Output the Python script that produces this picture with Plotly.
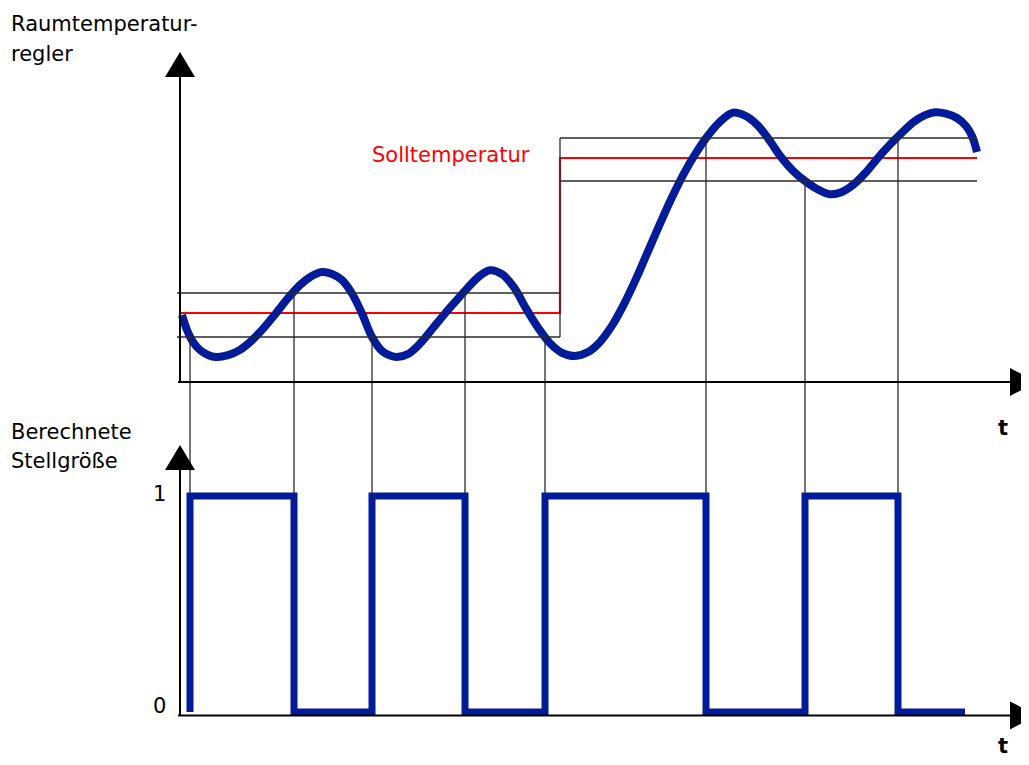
import plotly.graph_objects as go

# time axis (arbitrary units) and room temperature curve (schematic units)
t_curve = [0.2, 0.7, 1.3, 2.0, 2.8, 3.6,
           4.8, 6.0, 7.2, 8.4, 9.6, 10.8, 12.0, 13.1, 14.2,
           15.2, 16.2, 17.2, 18.2, 19.2, 20.2, 21.0, 21.7,
           22.9, 24.1, 25.3, 26.5, 27.7, 28.8, 29.9, 31.0,
           32.2, 33.4, 34.6, 35.8, 37.0, 38.2, 39.5,
           40.8, 42.0, 43.2, 44.4, 45.6, 46.8, 48.0, 49.2, 50.4, 51.6, 52.8, 54.0, 55.3,
           56.5, 57.7, 58.9, 60.1, 61.3, 62.5, 63.8, 65.0,
           66.2, 67.4, 68.6, 69.8, 71.0, 72.2, 73.4, 74.5, 75.5,
           76.6, 77.7, 78.6, 79.2, 79.7]
temp_curve = [6.7, 5.2, 4.0, 3.2, 2.7, 2.5,
              2.68, 3.22, 4.18, 5.44, 6.88, 8.38, 9.7, 10.55, 11.0,
              10.8, 10.2, 8.85, 6.85, 4.5, 3.1, 2.65, 2.5,
              2.86, 3.94, 5.4, 6.85, 8.22, 9.45, 10.55, 11.18,
              10.78, 9.46, 7.36, 5.44, 3.88, 2.92, 2.6,
              2.99, 4.01, 5.63, 7.79, 10.31, 13.07, 15.83, 18.47, 20.87, 22.91, 24.65, 26.03, 26.94,
              26.64, 25.74, 24.24, 22.5, 21.12, 20.1, 19.25, 18.77,
              19.0, 19.78, 20.98, 22.42, 23.74, 24.94, 26.02, 26.68, 26.98,
              26.84, 26.4, 25.6, 24.6, 23.0]

# setpoint (Solltemperatur) with step
t_set = [0.0, 38.0, 38.0, 79.7]
sp_set = [6.9, 6.9, 22.4, 22.4]

# hysteresis band around the setpoint
t_band_lo = [-0.3, 38.0]
band_lo_hi = [8.9, 8.9]
band_lo_lo = [4.5, 4.5]
t_band_hi = [38.0, 79.7]
band_hi_hi = [24.4, 24.4]
band_hi_lo = [20.1, 20.1]

# switching instants, threshold reached, controller output after switching
t_switch = [1.0, 11.4, 19.2, 28.5, 36.5, 52.6, 62.5, 71.8]
thr_switch = [4.5, 8.9, 4.5, 8.9, 4.5, 24.4, 20.1, 24.4]
u_switch = [1, 0, 1, 0, 1, 0, 1, 0]
t_end = 78.5

BLUE = "#021b98"
RED = "#ff0000"
GREY = "#2a2a2a"

W, H = 1013, 749          # page body adds an 8px margin
x_range = [-17.2, 84.1]
y_range = [-3.8, 37.4]
y2_range = [-0.2083, 1.3519]
split = 1 - 412 / H

fig = go.Figure()

# red setpoint
fig.add_trace(go.Scatter(x=t_set, y=sp_set, mode="lines",
                         line=dict(color=RED, width=2.2), yaxis="y"))

# temperature curve
fig.add_trace(go.Scatter(x=t_curve, y=temp_curve, mode="lines",
                         line=dict(color=BLUE, width=8, shape="spline", smoothing=1),
                         yaxis="y"))

# band lines (black, above the curve)
bx, by = [], []
for tt, yy in [(t_band_lo, band_lo_hi), (t_band_lo, band_lo_lo),
               (t_band_hi, band_hi_hi), (t_band_hi, band_hi_lo)]:
    bx += tt + [None]
    by += yy + [None]
bx += [t_band_lo[1], t_band_lo[1], None]
by += [band_lo_lo[0], band_hi_hi[0], None]
fig.add_trace(go.Scatter(x=bx, y=by, mode="lines",
                         line=dict(color=GREY, width=1.3), yaxis="y"))

# vertical switch lines, upper part
vx, vy = [], []
for t, thr in zip(t_switch, thr_switch):
    vx += [t, t, None]
    vy += [thr, y_range[0], None]
fig.add_trace(go.Scatter(x=vx, y=vy, mode="lines",
                         line=dict(color=GREY, width=1.3), yaxis="y"))

# vertical switch lines, lower part
vx2, vy2 = [], []
for t in t_switch:
    vx2 += [t, t, None]
    vy2 += [y2_range[1], 1, None]
fig.add_trace(go.Scatter(x=vx2, y=vy2, mode="lines",
                         line=dict(color=GREY, width=1.3), yaxis="y2"))

# controller output (Stellgröße)
sig_t = [t_switch[0]] + t_switch + [t_end]
sig_u = [0] + u_switch + [0]
fig.add_trace(go.Scatter(x=sig_t, y=sig_u, mode="lines",
                         line=dict(color=BLUE, width=7, shape="hv"), yaxis="y2"))

# axes with arrows
ax_col = "black"
shapes = [
    dict(type="line", xref="x", yref="y", x0=-0.2, x1=83.5, y0=0, y1=0,
         line=dict(color=ax_col, width=2)),
    dict(type="line", xref="x", yref="y", x0=0, x1=0, y0=0, y1=30.5,
         line=dict(color=ax_col, width=2)),
    dict(type="line", xref="x", yref="y2", x0=-0.2, x1=83.5, y0=-0.016, y1=-0.016,
         line=dict(color=ax_col, width=2)),
    dict(type="line", xref="x", yref="y2", x0=0, x1=0, y0=-0.016, y1=1.12,
         line=dict(color=ax_col, width=2)),
    dict(type="path", xref="x", yref="y", xsizemode="pixel", ysizemode="pixel",
         xanchor=0, yanchor=30.5, path="M-15,0 L15,0 L0,25 Z",
         fillcolor=ax_col, line=dict(width=0)),
    dict(type="path", xref="x", yref="y2", xsizemode="pixel", ysizemode="pixel",
         xanchor=0, yanchor=1.12, path="M-15,0 L15,0 L0,25 Z",
         fillcolor=ax_col, line=dict(width=0)),
    dict(type="path", xref="x", yref="y", xsizemode="pixel", ysizemode="pixel",
         xanchor=83.0, yanchor=0, path="M0,-14 L0,14 L27,0 Z",
         fillcolor=ax_col, line=dict(width=0)),
    dict(type="path", xref="x", yref="y2", xsizemode="pixel", ysizemode="pixel",
         xanchor=83.0, yanchor=-0.016, path="M0,-14 L0,14 L27,0 Z",
         fillcolor=ax_col, line=dict(width=0)),
]

FONT = "DejaVu Sans"


def label(text, px, py, size=21, color="black", anchor="left", bold=False):
    # px, py: position in the browser window
    return dict(text=f"<b>{text}</b>" if bold else text, xref="paper", yref="paper",
                x=(px - 8) / W, y=1 - (py - 8) / H, xanchor=anchor, yanchor="middle",
                showarrow=False, font=dict(family=FONT, size=size, color=color))


annotations = [
    label("Raumtemperatur-", 9, 24),
    label("regler", 9, 54),
    label("Berechnete", 9, 432),
    label("Stellgröße", 9, 461),
    label("Solltemperatur", 370, 155, color=RED),
    label("1", 159, 494, anchor="center"),
    label("0", 159, 706, anchor="center"),
    label("t", 1003, 428, anchor="center", bold=True),
    label("t", 1003, 746, anchor="center", bold=True),
]

fig.update_layout(
    width=W, height=H,
    margin=dict(l=0, r=0, t=0, b=0),
    paper_bgcolor="white", plot_bgcolor="white",
    showlegend=False,
    xaxis=dict(range=x_range, visible=False, domain=[0, 1]),
    yaxis=dict(range=y_range, visible=False, domain=[split, 1]),
    yaxis2=dict(range=y2_range, visible=False, domain=[0, split], anchor="x"),
    shapes=shapes,
    annotations=annotations,
)

fig.write_html("out.html")
